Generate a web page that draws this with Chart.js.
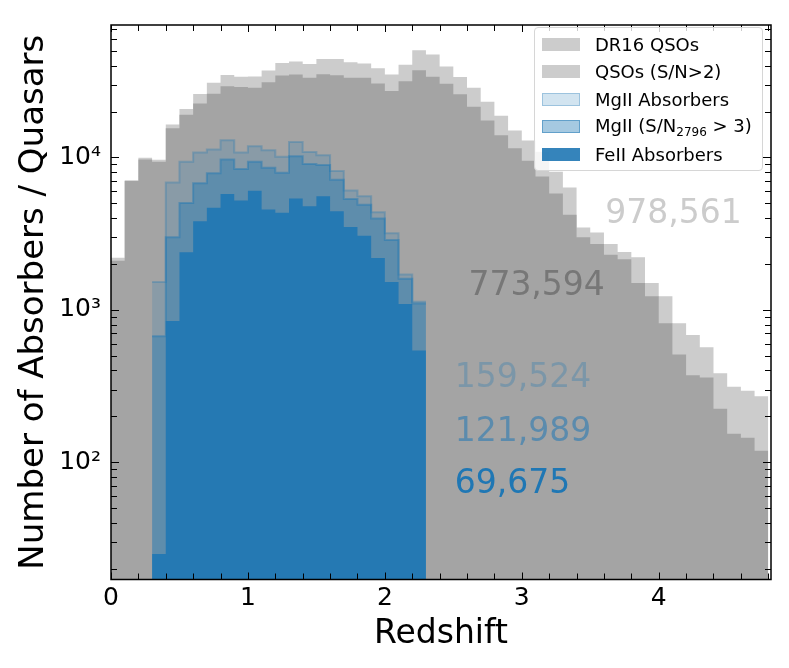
<!DOCTYPE html>
<html>
<head>
<meta charset="utf-8">
<script src="https://cdn.jsdelivr.net/npm/chart.js@4.4.0/dist/chart.umd.min.js"></script>
<style>
  body { margin: 0; background: #fff; }
  #wrap { position: relative; width: 789px; height: 668px; }
  #legend {
    position: absolute; left: 534px; top: 27px; width: 229px; height: 144px;
    box-sizing: border-box; background: rgba(255, 255, 255, 0.8);
    border: 1px solid #d6d6d6; border-radius: 4px;
    font-family: 'DejaVu Sans'; font-size: 18px; color: #000;
  }
  .row { position: absolute; left: 0; height: 20px; display: flex; align-items: center; white-space: nowrap; }
  .sw { width: 38px; height: 13px; margin-left: 7px; margin-right: 15px; box-sizing: border-box; }
  .row sub { font-size: 12px; vertical-align: -4px; }
</style>
</head>
<body>
<div id="wrap">
  <canvas id="chart" width="789" height="668"></canvas>
  <div id="legend"></div>
</div>
<script>
// histogram bin edges (redshift)
const binEdges = [0, 0.1, 0.2, 0.3, 0.4, 0.5, 0.6, 0.7, 0.8, 0.9, 1.0, 1.1, 1.2, 1.3, 1.4, 1.5,
  1.6, 1.7, 1.8, 1.9, 2.0, 2.1, 2.2, 2.3, 2.4, 2.5, 2.6, 2.7, 2.8, 2.9, 3.0, 3.1, 3.2, 3.3,
  3.4, 3.5, 3.6, 3.7, 3.8, 3.9, 4.0, 4.1, 4.2, 4.3, 4.4, 4.5, 4.6, 4.7, 4.8];

// counts per bin, quasars start at z = 0
const dr16Qsos = [2200, 7100, 9950, 9650, 16440, 20800, 26100, 30900, 34700, 33800,
  34000, 37200, 41700, 42600, 41000, 44200, 44200, 42200, 41300, 38500,
  35000, 40600, 50600, 47300, 39600, 33700, 28700, 23200, 18800, 15000,
  12900, 10900, 8070, 6360, 3470, 3220, 2700, 2400, 2215, 1500,
  1230, 817, 683, 569, 384, 313, 295, 271];
const snQsos = [2100, 7000, 9700, 9360, 15560, 19100, 22600, 26200, 29300, 29000,
  28700, 31200, 34500, 35000, 33300, 35200, 34600, 33300, 33300, 30600,
  27300, 31600, 37400, 33800, 30500, 26000, 21500, 17500, 14000, 11500,
  9500, 7500, 5800, 4200, 3000, 2700, 2300, 2150, 1500, 1230,
  817, 509, 372, 360, 224, 154, 145, 119];

// absorbers start at z = 0.3
const absorberStart = 0.3;
const mgiiAll = [1524, 6840, 9360, 10770, 11270, 12950, 10770, 11840, 11150, 10090,
  12620, 10870, 10340, 8150, 6080, 5560, 4370, 3180, 1707, 1130];
const mgiiSn = [670, 2990, 5030, 6780, 7870, 9700, 8400, 9360, 8560, 7950,
  10200, 9050, 8910, 7130, 5340, 4900, 3980, 2870, 1600, 1100];
const feii = [25, 845, 2385, 3820, 4670, 5755, 5210, 6050, 4550, 4330,
  5370, 4780, 5560, 4440, 3500, 3060, 2190, 1524, 1092, 541];

const seriesLabels = ['DR16 QSOs', 'QSOs (S/N>2)', 'MgII Absorbers', 'MgII (S/N₂₇₉₆ > 3)', 'FeII Absorbers'];
const countLabels = ['978,561', '773,594', '159,524', '121,989', '69,675'];

const xTicks = [0, 0.2, 0.4, 0.6, 0.8, 1, 1.2, 1.4, 1.6, 1.8, 2, 2.2, 2.4, 2.6, 2.8, 3,
  3.2, 3.4, 3.6, 3.8, 4, 4.2, 4.4, 4.6, 4.8];
const xLabelTicks = [0, 1, 2, 3, 4];
const yDecades = [10, 100, 1000, 10000];
const yLabelTicks = [100, 1000, 10000];

// where the totals are written (data coordinates) and their colours
const countPlacement = [
  { x: 3.61, y: 4230, color: '#cccccc' },
  { x: 2.61, y: 1430, color: '#777777' },
  { x: 2.51, y: 354, color: 'rgba(31, 119, 180, 0.3)' },
  { x: 2.51, y: 158, color: 'rgba(31, 119, 180, 0.55)' },
  { x: 2.51, y: 71.6, color: 'rgb(31, 119, 180)' }
];

const yMin = 17, yMax = 74000, xMax = 4.82;

function stepPoints(values, firstEdge) {
  const start = binEdges.indexOf(firstEdge);
  const pts = values.map((v, i) => ({ x: binEdges[start + i], y: v }));
  pts.push({ x: binEdges[start + values.length], y: values[values.length - 1] });
  return pts;
}

const supDigits = { 2: '²', 3: '³', 4: '⁴' };

// inward tick marks on all sides, frame, and the totals
const frameAndTicks = {
  id: 'frameAndTicks',
  afterDraw(chart) {
    const { ctx, chartArea: a, scales: { x, y } } = chart;
    ctx.save();
    ctx.font = '33px "DejaVu Sans"';
    ctx.textBaseline = 'middle';
    ctx.textAlign = 'left';
    countLabels.forEach((t, i) => {
      const p = countPlacement[i];
      ctx.fillStyle = p.color;
      ctx.fillText(t, x.getPixelForValue(p.x), y.getPixelForValue(p.y));
    });

    ctx.strokeStyle = '#000';
    ctx.lineWidth = 1;
    ctx.beginPath();
    x.ticks.forEach(t => {
      const px = Math.round(x.getPixelForValue(t.value)) + 0.5;
      const len = xLabelTicks.includes(t.value) ? 7 : 6;
      ctx.moveTo(px, a.bottom); ctx.lineTo(px, a.bottom - len);
      ctx.moveTo(px, a.top); ctx.lineTo(px, a.top + len);
    });
    y.ticks.forEach(t => {
      if (t.value < yMin || t.value > yMax) return;
      const py = Math.round(y.getPixelForValue(t.value)) + 0.5;
      const len = yLabelTicks.includes(t.value) ? 8 : 6;
      ctx.moveTo(a.left, py); ctx.lineTo(a.left + len, py);
      ctx.moveTo(a.right, py); ctx.lineTo(a.right - len, py);
    });
    ctx.stroke();
    ctx.lineWidth = 1.5;
    ctx.strokeRect(a.left, a.top, a.right - a.left, a.bottom - a.top);
    ctx.restore();
  }
};

Chart.defaults.font.family = 'DejaVu Sans';
Chart.defaults.color = '#000';

const ctx = document.getElementById('chart').getContext('2d');
const chart = new Chart(ctx, {
  type: 'line',
  data: {
    datasets: [{
      label: seriesLabels[0],
      data: stepPoints(dr16Qsos, 0),
      backgroundColor: '#cccccc',
      legendFill: '#cccccc',
      borderWidth: 0,
      order: 5
    }, {
      label: seriesLabels[1],
      data: stepPoints(snQsos, 0),
      backgroundColor: '#a4a4a4',
      legendFill: '#cccccc',
      borderWidth: 0,
      order: 4
    }, {
      label: seriesLabels[2],
      data: stepPoints(mgiiAll, absorberStart),
      backgroundColor: 'rgba(31, 119, 180, 0.2)',
      borderColor: 'rgba(31, 119, 180, 0.3)',
      legendFill: 'rgba(31, 119, 180, 0.2)',
      legendBorder: 'rgba(31, 119, 180, 0.3)',
      borderWidth: 2,
      order: 3
    }, {
      label: seriesLabels[3],
      data: stepPoints(mgiiSn, absorberStart),
      backgroundColor: 'rgba(31, 119, 180, 0.4)',
      borderColor: 'rgba(31, 119, 180, 0.45)',
      legendFill: 'rgba(31, 119, 180, 0.4)',
      legendBorder: 'rgba(31, 119, 180, 0.5)',
      borderWidth: 2,
      order: 2
    }, {
      label: seriesLabels[4],
      data: stepPoints(feii, absorberStart),
      backgroundColor: 'rgba(31, 119, 180, 0.9)',
      legendFill: 'rgba(31, 119, 180, 0.9)',
      borderWidth: 0,
      order: 1
    }].map(d => Object.assign({ fill: 'start', stepped: 'before', pointRadius: 0, tension: 0 }, d))
  },
  options: {
    responsive: false,
    animation: false,
    devicePixelRatio: 1,
    layout: { padding: { top: 18, right: 18, left: 0, bottom: 0 } },
    plugins: { legend: { display: false }, tooltip: { enabled: false } },
    scales: {
      x: {
        type: 'linear',
        min: 0,
        max: xMax,
        afterBuildTicks: s => { s.ticks = xTicks.map(v => ({ value: v })); },
        afterFit: s => { s.height = 88.5; },
        grid: { display: false, drawTicks: false },
        border: { display: false },
        ticks: {
          font: { size: 25 },
          padding: 4,
          autoSkip: false,
          maxRotation: 0,
          callback: v => xLabelTicks.includes(v) ? String(v) : ''
        },
        title: {
          display: true,
          text: 'Redshift',
          font: { size: 33 },
          padding: { top: 0, bottom: 14 }
        }
      },
      y: {
        type: 'logarithmic',
        min: yMin,
        max: yMax,
        afterBuildTicks: s => {
          const t = [];
          yDecades.forEach(d => {
            for (let m = 1; m <= 9; m++) t.push({ value: d * m });
          });
          s.ticks = t.filter(k => k.value >= yMin && k.value <= yMax);
        },
        afterFit: s => { s.width = 111; },
        grid: { display: false, drawTicks: false },
        border: { display: false },
        ticks: {
          font: { size: 25 },
          padding: 10,
          autoSkip: false,
          callback: v => yLabelTicks.includes(v) ? '10' + supDigits[Math.round(Math.log10(v))] : ''
        },
        title: {
          display: true,
          text: 'Number of Absorbers / Quasars',
          font: { size: 34 },
          padding: { top: 14, bottom: 0 }
        }
      }
    }
  },
  plugins: [frameAndTicks]
});

// legend drawn as html so it can sit inside the plot like the original
const legendEl = document.getElementById('legend');
chart.data.datasets.forEach((d, i) => {
  const row = document.createElement('div');
  row.className = 'row';
  row.style.top = (6 + i * 27.5) + 'px';
  const sw = document.createElement('div');
  sw.className = 'sw';
  sw.style.background = d.legendFill;
  if (d.legendBorder) sw.style.border = '1.5px solid ' + d.legendBorder;
  const txt = document.createElement('span');
  txt.innerHTML = d.label
    .replace(/>/g, '&gt;')
    .replace(/[₀-₉]+/g, m => '<sub>' + [...m].map(c => String.fromCharCode(c.charCodeAt(0) - 0x2080 + 48)).join('') + '</sub>');
  row.appendChild(sw);
  row.appendChild(txt);
  legendEl.appendChild(row);
});
</script>
</body>
</html>
